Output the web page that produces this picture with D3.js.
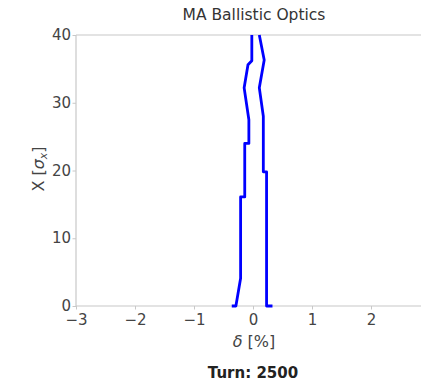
<!DOCTYPE html>
<html><head><meta charset="utf-8">
<script src="https://cdn.jsdelivr.net/npm/d3@7"></script>
<style>body{margin:0;background:#fff}svg{display:block}text{font-family:"DejaVu Sans",sans-serif}</style>
</head><body>
<svg id="c" width="421" height="381"></svg>
<script>
const title = "MA Ballistic Optics";
const footer = "Turn: 2500";
const xTicks = [-3, -2, -1, 0, 1, 2];
const yTicks = [0, 10, 20, 30, 40];
// left boundary of the distribution (delta in %, X in sigma_x)
const leftDelta = [-0.36, -0.29, -0.21, -0.21, -0.14, -0.14, -0.07, -0.07, -0.15, -0.085, -0.02, -0.02];
const leftX     = [0, 0, 4.1, 16.1, 16.1, 24.0, 24.0, 27.5, 32.2, 35.6, 36.2, 40];
// right boundary
const rightDelta = [0.33, 0.23, 0.23, 0.175, 0.175, 0.107, 0.19, 0.107];
const rightX     = [0, 0, 19.8, 19.8, 28.0, 32.2, 36.3, 40];

const svg = d3.select("#c");
const m = {l: 76, t: 35, r: 430, b: 306};
const x = d3.scaleLinear().domain([-3, 3]).range([m.l, m.r]);
const y = d3.scaleLinear().domain([0, 40]).range([m.b, m.t]);

const gray = "#c8c8c8";
// spines
svg.append("line").attr("x1", m.l).attr("x2", m.l).attr("y1", m.t).attr("y2", m.b).attr("stroke", gray).attr("stroke-width", 1.2);
svg.append("line").attr("x1", m.l).attr("x2", m.r).attr("y1", m.b).attr("y2", m.b).attr("stroke", gray).attr("stroke-width", 1.2);
svg.append("line").attr("x1", m.l).attr("x2", m.r).attr("y1", m.t).attr("y2", m.t).attr("stroke", gray).attr("stroke-width", 1.2);

const fmt = d => (d < 0 ? "\u2212" + Math.abs(d) : "" + d);
const xa = svg.append("g").attr("transform", `translate(0,${m.b})`)
  .call(d3.axisBottom(x).tickValues(xTicks).tickFormat(fmt).tickSize(3.5).tickSizeOuter(0));
const ya = svg.append("g").attr("transform", `translate(${m.l},0)`)
  .call(d3.axisLeft(y).tickValues(yTicks).tickFormat(fmt).tickSize(3.5).tickSizeOuter(0));
[xa, ya].forEach(g => {
  g.select(".domain").remove();
  g.selectAll("line").attr("stroke", gray);
  g.selectAll("text").attr("fill", "#444").style("font-size", "15px").style("font-family", "DejaVu Sans");
});
xa.selectAll("text").attr("dy", "0.85em");
ya.selectAll("text").attr("dx", "0.1em").attr("dy", "0.3em");

const line = d3.line().x(d => x(d[0])).y(d => y(d[1]));
const lp = leftDelta.map((d, i) => [d, leftX[i]]);
const rp = rightDelta.map((d, i) => [d, rightX[i]]);
[lp, rp].forEach(p => svg.append("path").attr("d", line(p)).attr("fill", "none")
  .attr("stroke", "#0000ff").attr("stroke-width", 2.8).attr("stroke-linejoin", "round"));

svg.append("text").attr("x", 254).attr("y", 20).attr("text-anchor", "middle")
  .style("font-size", "15.5px").attr("fill", "#333").text(title);
svg.append("text").attr("x", 254).attr("y", 347).attr("text-anchor", "middle")
  .style("font-size", "16px").attr("fill", "#444")
  .html('<tspan font-style="italic">\u03b4</tspan> [%]');
svg.append("text").attr("transform", "translate(44,169) rotate(-90)").attr("text-anchor", "middle")
  .style("font-size", "16px").attr("fill", "#444")
  .html('X [<tspan font-style="italic">σ</tspan><tspan dy="3" font-size="11px" font-style="italic">x</tspan><tspan dy="-3">]</tspan>');
svg.append("text").attr("x", 253).attr("y", 378).attr("text-anchor", "middle")
  .style("font-size", "15px").style("font-weight", "bold").attr("fill", "#222").text(footer);
</script>
</body></html>
